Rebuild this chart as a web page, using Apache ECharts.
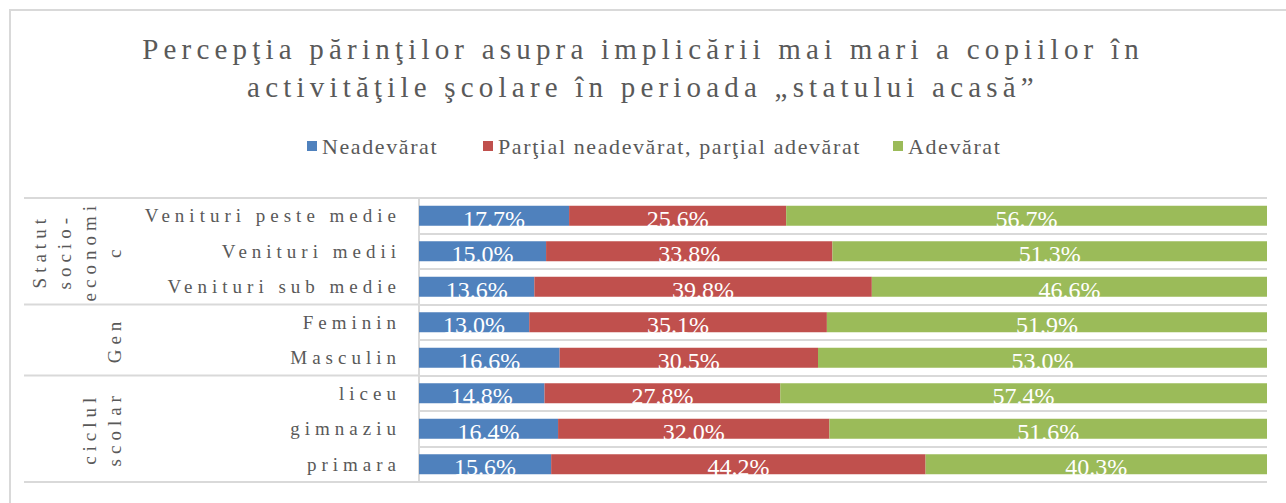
<!DOCTYPE html>
<html>
<head>
<meta charset="utf-8">
<script src="https://cdn.jsdelivr.net/npm/echarts@6/dist/echarts.min.js"></script>
<style>
  html, body { margin: 0; padding: 0; background: #fff; }
  #chart { width: 1286px; height: 503px; }
</style>
</head>
<body>
<div id="chart"></div>
<script>
// chart data
const categories = ['Venituri peste medie', 'Venituri medii', 'Venituri sub medie', 'Feminin', 'Masculin', 'liceu', 'gimnaziu', 'primara'];
const neadevarat = [17.7, 15.0, 13.6, 13.0, 16.6, 14.8, 16.4, 15.6];
const partial = [25.6, 33.8, 39.8, 35.1, 30.5, 27.8, 32.0, 44.2];
const adevarat = [56.7, 51.3, 46.6, 51.9, 53.0, 57.4, 51.6, 40.3];
const seriesNames = ['Neadevărat', 'Parţial neadevărat, parţial adevărat', 'Adevărat'];
const groupLines = [['Statut', 'socio-', 'economi', 'c'], ['Gen'], ['ciclul', 'scolar']];
const groupSizes = [3, 2, 3];
const titleLines = ['Percepţia părinţilor asupra implicării mai mari a copiilor în', 'activităţile şcolare în perioada „statului acasă”'];

const serif = "'Liberation Serif', serif";
const textGray = '#595959';
const lineGray = '#d9d9d9';
const colors = ['#4f81bd', '#c0504d', '#9bbb59'];
const legendLeft = [302, 478, 888];

const chart = echarts.init(document.getElementById('chart'), null, { renderer: 'svg' });

// 100% stacked: each row is scaled to its own total
const raw = [neadevarat, partial, adevarat];
const totals = categories.map((c, i) => raw[0][i] + raw[1][i] + raw[2][i]);

const series = raw.map((vals, s) => ({
    name: seriesNames[s],
    type: 'bar',
    stack: 'total',
    barWidth: 20,
    itemStyle: { color: colors[s] },
    emphasis: { disabled: true },
    label: {
        show: true,
        position: 'inside',
        color: '#fff',
        fontFamily: serif,
        fontSize: 24,
        offset: [0, 3],
        formatter: p => vals[p.dataIndex].toFixed(1) + '%'
    },
    data: vals.map((v, i) => v / totals[i] * 100)
}));

// one legend per entry so each swatch sits where the reference has it
const legends = seriesNames.map((name, s) => ({
    left: legendLeft[s],
    top: 130,
    itemWidth: 10,
    itemHeight: 10,
    icon: 'rect',
    textStyle: { fontFamily: serif, fontSize: 22, color: textGray },
    data: [name]
}));

chart.setOption({
    animation: false,
    title: {
        text: titleLines.join('\n'),
        left: 'center',
        top: 25,
        textStyle: { fontFamily: serif, fontSize: 29, fontWeight: 'normal', color: textGray, lineHeight: 38 }
    },
    legend: legends,
    grid: { left: 419, right: 19, top: 198, bottom: 21 },
    xAxis: { type: 'value', min: 0, max: 100, show: false },
    yAxis: {
        type: 'category',
        data: categories,
        inverse: true,
        axisLine: { show: true, lineStyle: { color: lineGray, width: 2 } },
        axisTick: { show: false },
        splitLine: { show: true, lineStyle: { color: lineGray, width: 2 } },
        axisLabel: { fontFamily: serif, fontSize: 19, color: textGray, margin: 18 }
    },
    series: series
});

// group column on the left, positioned from the category scale
const y0 = chart.convertToPixel({ yAxisIndex: 0 }, categories[0]);
const y1 = chart.convertToPixel({ yAxisIndex: 0 }, categories[1]);
const band = y1 - y0;
const graphic = [{
    type: 'rect',
    shape: { x: 10, y: 10, width: 1400, height: 700 },
    style: { fill: 'none', stroke: lineGray, lineWidth: 2 },
    silent: true
}];
let start = 0;
const edges = [y0 - band / 2];
groupSizes.forEach((n, g) => {
    const top = chart.convertToPixel({ yAxisIndex: 0 }, categories[start]) - band / 2;
    const bottom = chart.convertToPixel({ yAxisIndex: 0 }, categories[start + n - 1]) + band / 2;
    edges.push(bottom);
    graphic.push({
        type: 'text',
        x: 127,
        y: (top + bottom) / 2,
        rotation: Math.PI / 2,
        silent: true,
        style: {
            text: groupLines[g].join('\n'),
            fontFamily: serif,
            fontSize: 19,
            lineHeight: 25,
            fill: textGray,
            align: 'center',
            verticalAlign: 'bottom'
        }
    });
    start += n;
});
edges.forEach(y => {
    graphic.push({
        type: 'line',
        shape: { x1: 24, y1: y, x2: 419, y2: y },
        style: { stroke: lineGray, lineWidth: 2 },
        silent: true
    });
});
chart.setOption({ graphic: graphic });

// the reference uses tracked (letter-spaced) type for title and axis labels
const spacedText = new Set([...categories, ...groupLines.flat()]);
function spaceText() {
    chart.getDom().querySelectorAll('text').forEach(t => {
        const s = t.textContent;
        if (titleLines.includes(s)) {
            t.setAttribute('letter-spacing', '5.2');
        } else if (spacedText.has(s)) {
            t.setAttribute('letter-spacing', '5');
        } else if (seriesNames.includes(s)) {
            t.setAttribute('letter-spacing', '1.6');
        }
    });
}
spaceText();
chart.on('finished', spaceText);
</script>
</body>
</html>
